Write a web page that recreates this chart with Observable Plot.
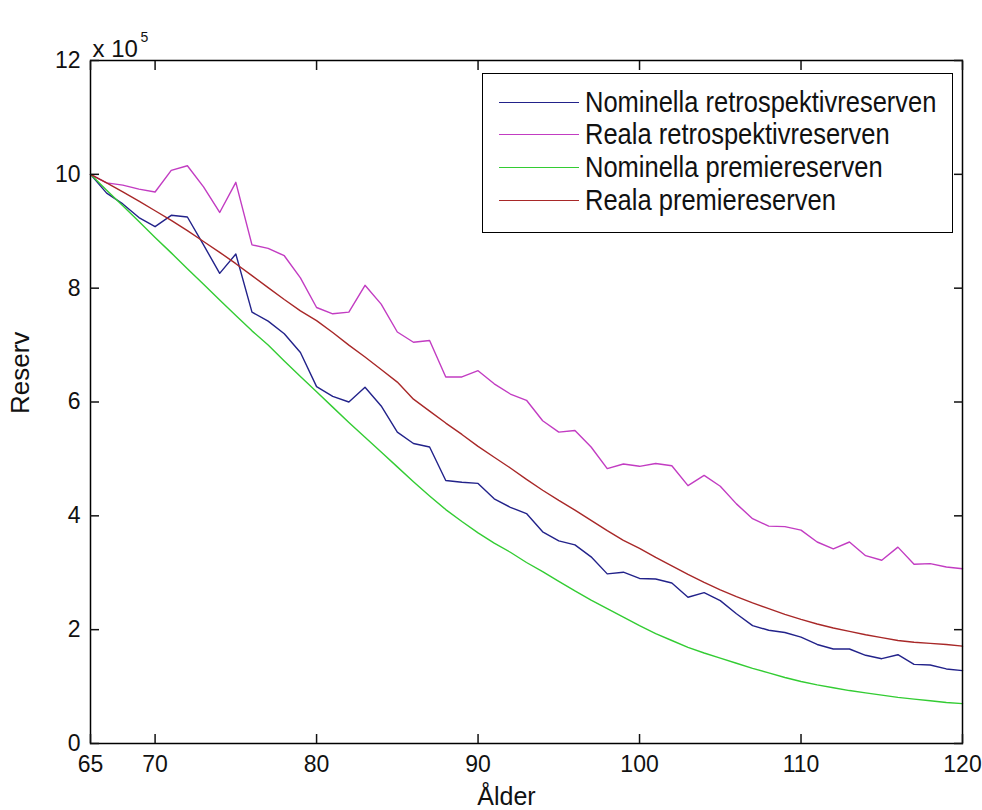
<!DOCTYPE html>
<html><head><meta charset="utf-8">
<script src="https://cdn.jsdelivr.net/npm/d3@7"></script>
<script src="https://cdn.jsdelivr.net/npm/@observablehq/plot@0.6"></script>
<style>
body{margin:0;background:#fff;}
#wrap{position:relative;width:982px;height:810px;font-family:"Liberation Sans",Arial,sans-serif;}
#legend{position:absolute;left:482px;top:73px;width:471px;height:160px;box-sizing:border-box;border:1.5px solid #000;background:#fff;}
.item{position:absolute;left:0;height:33px;display:flex;align-items:center;white-space:nowrap;}
.item .sw{width:80px;margin-left:16px;height:0;border-top:1.5px solid;}
.item span{margin-left:6px;font-size:25.5px;color:#111;line-height:33px;display:inline-block;transform:scaleY(1.12);}
</style></head><body><div id="wrap"></div>
<script>
// Ages (x), tick positions and labels
const ages = [66,67,68,69,70,71,72,73,74,75,76,77,78,79,80,81,82,83,84,85,86,87,88,89,90,
  91,92,93,94,95,96,97,98,99,100,101,102,103,104,105,106,107,108,109,110,
  111,112,113,114,115,116,117,118,119,120];
const xTicks = [66,70,80,90,100,110,120];
const xTickLabels = ["65","70","80","90","100","110","120"];
const yTicks = [0,2,4,6,8,10,12];

// Series values (units of 10^5)
const nominellaRetro = [10.0,9.67,9.48,9.24,9.08,9.28,9.25,8.76,8.26,8.6,
  7.58,7.42,7.2,6.87,6.27,6.1,6.0,6.26,5.93,5.47,
  5.27,5.21,4.62,4.59,4.57,4.3,4.15,4.04,3.72,3.56,
  3.49,3.28,2.98,3.01,2.9,2.89,2.82,2.57,2.65,2.51,
  2.28,2.07,1.99,1.95,1.87,1.74,1.66,1.66,1.55,1.49,
  1.56,1.39,1.38,1.31,1.28];
const realaRetro = [10.0,9.85,9.81,9.74,9.69,10.07,10.15,9.78,9.33,9.86,
  8.76,8.7,8.57,8.18,7.66,7.55,7.58,8.05,7.72,7.23,
  7.05,7.08,6.44,6.44,6.55,6.32,6.14,6.03,5.67,5.47,
  5.5,5.21,4.83,4.91,4.87,4.92,4.88,4.53,4.71,4.52,
  4.21,3.95,3.82,3.81,3.75,3.54,3.42,3.54,3.3,3.22,
  3.45,3.15,3.16,3.1,3.07];
const nominellaPremie = [10.0,9.72,9.45,9.17,8.89,8.62,8.34,8.07,7.79,7.52,
  7.25,7.0,6.72,6.45,6.18,5.91,5.64,5.38,5.12,4.86,
  4.6,4.35,4.11,3.9,3.7,3.52,3.36,3.18,3.02,2.85,
  2.68,2.52,2.37,2.22,2.07,1.93,1.81,1.69,1.59,1.5,
  1.41,1.32,1.24,1.16,1.09,1.03,0.98,0.93,0.89,0.85,
  0.81,0.78,0.75,0.72,0.70];
const realaPremie = [10.0,9.85,9.69,9.53,9.36,9.19,9.01,8.82,8.63,8.43,
  8.22,8.01,7.8,7.6,7.43,7.22,7.0,6.79,6.57,6.35,
  6.05,5.84,5.63,5.43,5.22,5.03,4.84,4.64,4.45,4.27,
  4.1,3.92,3.74,3.57,3.43,3.27,3.12,2.97,2.83,2.7,
  2.58,2.47,2.37,2.27,2.18,2.1,2.03,1.97,1.91,1.86,
  1.81,1.78,1.76,1.74,1.71];

const seriesNames = ["Nominella retrospektivreserven","Reala retrospektivreserven","Nominella premiereserven","Reala premiereserven"];
const seriesValues = [nominellaRetro, realaRetro, nominellaPremie, realaPremie];
const seriesColors = ["#22228a","#c23cc2","#33cc33","#a82828"];

const data = seriesNames.flatMap((name, s) => ages.map((age, i) => ({age, value: seriesValues[s][i], series: name})));

const font = `"Liberation Sans",Arial,sans-serif`;

const chart = Plot.plot({
  width: 982, height: 810,
  marginLeft: 90, marginRight: 20, marginTop: 60, marginBottom: 67,
  style: {fontFamily: font, fontSize: "23px", color: "#111", background: "white", overflow: "visible"},
  x: {domain: [66, 120]},
  y: {domain: [0, 12]},
  color: {domain: seriesNames, range: seriesColors},
  marks: [
    Plot.line(data, {x: "age", y: "value", stroke: "series", z: "series", strokeWidth: 1.4}),
    Plot.frame({stroke: "#000", strokeWidth: 1.5}),
    Plot.axisX({ticks: xTicks, tickSize: -9, tickPadding: 21, strokeWidth: 1.5,
      tickFormat: d => xTickLabels[xTicks.indexOf(d)], label: null}),
    Plot.axisX({anchor: "top", ticks: xTicks, tickSize: -9, strokeWidth: 1.5, tickFormat: () => "", label: null}),
    Plot.axisY({ticks: yTicks, tickSize: -9, tickPadding: 19, strokeWidth: 1.5, label: null}),
    Plot.axisY({anchor: "right", ticks: yTicks, tickSize: -9, strokeWidth: 1.5, tickFormat: () => "", label: null}),
    Plot.text(["Reserv"], {frameAnchor: "left", dx: -70, dy: 12, rotate: -90, fontSize: 26, fill: "#111"}),
    Plot.text(["Ålder"], {frameAnchor: "bottom", dx: -20, dy: 61, fontSize: 25, fill: "#111"}),
    Plot.text(["x 10"], {frameAnchor: "top-left", dx: 2, dy: -21, textAnchor: "start", fontSize: 24, fill: "#111"}),
    Plot.text(["5"], {frameAnchor: "top-left", dx: 50, dy: -28, textAnchor: "start", fontSize: 14, fill: "#111"})
  ]
});

const wrap = document.getElementById("wrap");
wrap.appendChild(chart);

const legend = document.createElement("div");
legend.id = "legend";
const rowTops = [12, 44, 77, 110];
seriesNames.forEach((name, i) => {
  const item = document.createElement("div");
  item.className = "item";
  item.style.top = rowTops[i] + "px";
  const sw = document.createElement("div");
  sw.className = "sw";
  sw.style.borderTopColor = seriesColors[i];
  const label = document.createElement("span");
  label.textContent = name;
  item.appendChild(sw);
  item.appendChild(label);
  legend.appendChild(item);
});
wrap.appendChild(legend);
</script></body></html>
